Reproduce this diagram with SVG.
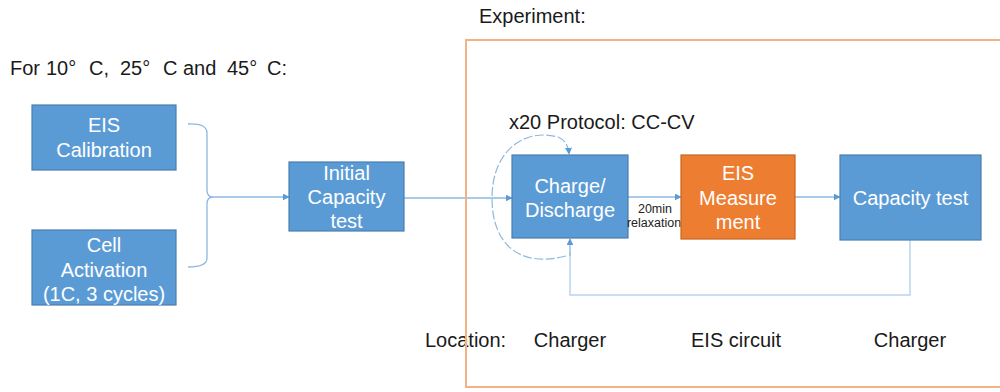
<svg xmlns="http://www.w3.org/2000/svg" width="1000" height="392" viewBox="0 0 1000 392">
  <defs>
    <style>
      .lbl { font-family: "Liberation Sans", Arial, sans-serif; font-size: 20px; fill: #1a1a1a; }
      .box { fill: #5B9BD5; stroke: #4A7EB0; stroke-width: 1.2; }
      .box-or { fill: #ED7D31; stroke: #C9651F; stroke-width: 1.2; }
      .in { font-family: "Liberation Sans", Arial, sans-serif; font-size: 20px; fill: #ffffff; text-anchor: middle; }
      .small { font-family: "Liberation Sans", Arial, sans-serif; font-size: 12.5px; fill: #222; text-anchor: middle; }
      .conn { fill: none; stroke: #8DB8E2; stroke-width: 1.3; }
      .faint { fill: none; stroke: #B8D3EE; stroke-width: 1.5; }
      .loop { fill: none; stroke: #8DB8E2; stroke-width: 1.2; stroke-dasharray: 9 2.5; }
      .frame { fill: none; stroke: #F4B183; stroke-width: 2; }
    </style>
    <marker id="arr" viewBox="0 0 10 10" refX="9" refY="5" markerWidth="7" markerHeight="7" markerUnits="userSpaceOnUse" orient="auto">
      <path d="M0,0 L10,5 L0,10 z" fill="#5B9BD5"/>
    </marker>
  </defs>

  <!-- headings -->
  <text class="lbl" y="75">
    <tspan x="10">For</tspan><tspan x="46">10°</tspan><tspan x="89">C,</tspan><tspan x="120">25°</tspan><tspan x="163">C and</tspan><tspan x="227">45°</tspan><tspan x="267">C:</tspan>
  </text>
  <text class="lbl" x="479" y="23">Experiment:</text>
  <text class="lbl" x="509" y="129" font-size="19.5">x20 Protocol: CC-CV</text>

  <!-- location row -->
  <g id="locations">
    <text class="lbl" x="425" y="347">Location:</text>
    <text class="lbl" x="570" y="347" text-anchor="middle">Charger</text>
    <text class="lbl" x="736" y="347" text-anchor="middle">EIS circuit</text>
    <text class="lbl" x="910" y="347" text-anchor="middle">Charger</text>
  </g>

  <!-- connectors -->
  <g id="connectors">
    <path class="conn" d="M188 124 Q207 123 207 133 L207 190 Q207 197 213 197 Q207 197 207 204 L207 258 Q207 267 188 267"/>
    <path class="conn" d="M213 197 L289 197" marker-end="url(#arr)"/>
    <path class="conn" d="M404 198 L512 198" marker-end="url(#arr)"/>
    <path class="loop" d="M566 256 C520 268 492 245 492 198 C492 150 525 128 558 137 Q568 141 569 154" marker-end="url(#arr)"/>
    <path class="conn" d="M628 197 L681 197" marker-end="url(#arr)"/>
    <path class="conn" d="M795 197 L840 197" marker-end="url(#arr)"/>
    <path class="faint" d="M910 240 L910 295 L570 295 L570 252"/>
    <path class="conn" d="M570 256 L570 239" marker-end="url(#arr)"/>
  </g>

  <!-- nodes -->
  <g id="eis-calibration">
    <rect class="box" x="32" y="105" width="144" height="65"/>
    <text class="in" x="104" y="132">EIS</text>
    <text class="in" x="104" y="157">Calibration</text>
  </g>
  <g id="cell-activation">
    <rect class="box" x="32" y="230" width="144" height="75"/>
    <text class="in" x="104" y="252">Cell</text>
    <text class="in" x="104" y="277">Activation</text>
    <text class="in" x="104" y="301">(1C, 3 cycles)</text>
  </g>
  <g id="initial-capacity">
    <rect class="box" x="289" y="162" width="115" height="69"/>
    <text class="in" x="346.5" y="180">Initial</text>
    <text class="in" x="346.5" y="204">Capacity</text>
    <text class="in" x="346.5" y="228">test</text>
  </g>
  <g id="charge-discharge">
    <rect class="box" x="512" y="155" width="116" height="83"/>
    <text class="in" x="570" y="193">Charge/</text>
    <text class="in" x="570" y="217">Discharge</text>
  </g>
  <g id="relaxation-label">
    <text class="small" x="655" y="213">20min</text>
    <text class="small" x="654" y="227">relaxation</text>
  </g>
  <g id="eis-measurement">
    <rect class="box-or" x="681" y="155" width="114" height="84"/>
    <text class="in" x="738" y="180">EIS</text>
    <text class="in" x="738" y="205">Measure</text>
    <text class="in" x="738" y="229">ment</text>
  </g>
  <g id="capacity-test">
    <rect class="box" x="840" y="155" width="141" height="85"/>
    <text class="in" x="910.5" y="205">Capacity test</text>
  </g>

  <!-- experiment frame -->
  <g id="experiment-frame">
    <rect class="frame" x="466" y="40" width="545" height="347"/>
  </g>
</svg>
